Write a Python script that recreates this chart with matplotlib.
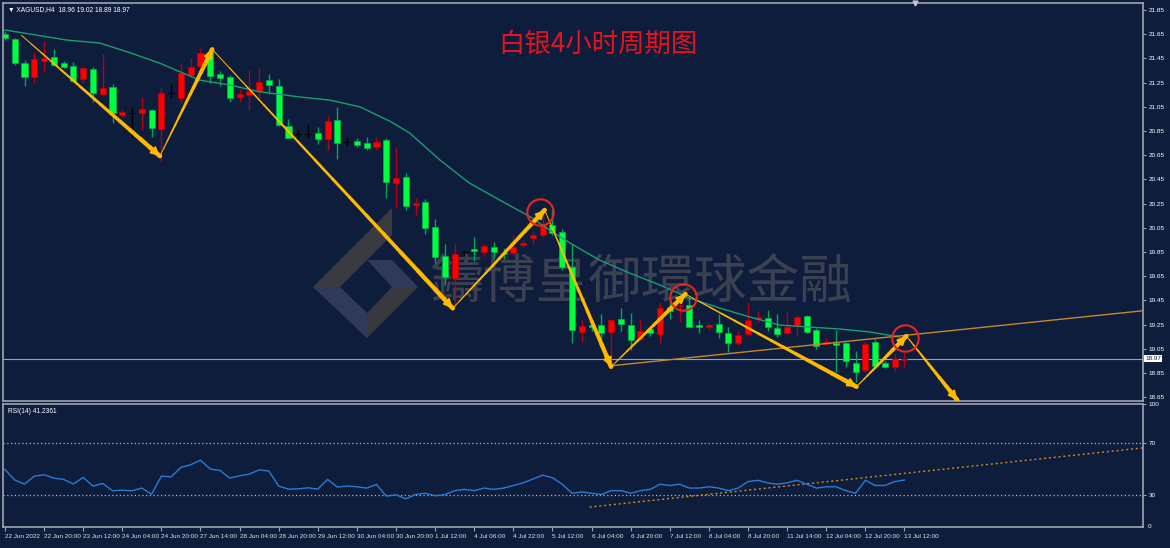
import matplotlib.pyplot as plt
import numpy as np
from matplotlib.collections import LineCollection
from matplotlib.patches import Polygon

plt.rcParams['font.family'] = ['Noto Sans CJK SC', 'DejaVu Sans']

# XAGUSD H4 candles
opens = [21.65, 21.61, 21.414, 21.30, 21.43, 21.464, 21.414, 21.39, 21.277, 21.36,
         21.156, 21.216, 20.982, 20.996, 21.00, 21.024, 20.864, 21.167, 21.125, 21.313,
         21.387, 21.505, 21.32, 21.30, 21.133, 21.145, 21.183, 21.27, 21.22, 20.89,
         20.823, 20.823, 20.83, 20.78, 20.94, 20.762, 20.77, 20.753, 20.72, 20.776,
         20.423, 20.473, 20.236, 20.266, 20.06, 19.817, 19.633, 19.853, 19.877, 19.853,
         19.894, 19.845, 19.845, 19.908, 19.963, 19.99, 20.073, 20.017, 19.73, 19.191,
         19.247, 19.247, 19.19, 19.294, 19.247, 19.128, 19.21, 19.172, 19.398, 19.40,
         19.415, 19.247, 19.228, 19.255, 19.183, 19.10, 19.172, 19.294, 19.302, 19.22,
         19.183, 19.247, 19.32, 19.205, 19.09, 19.095, 19.095, 18.935, 18.875, 19.11,
         18.93, 18.897, 18.96]
highs = [21.68, 21.62, 21.44, 21.505, 21.59, 21.525, 21.43, 21.42, 21.38, 21.38,
         21.49, 21.236, 21.02, 21.05, 21.134, 21.03, 21.203, 21.24, 21.414, 21.45,
         21.533, 21.535, 21.35, 21.31, 21.20, 21.354, 21.37, 21.32, 21.277, 20.95,
         20.86, 20.91, 20.885, 20.974, 21.046, 20.80, 20.79, 20.80, 20.80, 20.79,
         20.72, 20.50, 20.296, 20.29, 20.12, 19.92, 19.92, 19.87, 19.976, 19.92,
         19.93, 19.885, 19.99, 19.95, 20.018, 20.197, 20.197, 20.04, 19.92, 19.288,
         19.29, 19.337, 19.30, 19.385, 19.343, 19.30, 19.23, 19.426, 19.45, 19.43,
         19.49, 19.29, 19.26, 19.337, 19.228, 19.20, 19.44, 19.36, 19.37, 19.337,
         19.36, 19.33, 19.33, 19.22, 19.14, 19.205, 19.11, 19.035, 19.11, 19.13,
         18.95, 19.01, 19.02]
lows = [21.60, 21.395, 21.225, 21.245, 21.34, 21.39, 21.37, 21.255, 21.245, 21.087,
        21.15, 20.914, 20.97, 20.79, 20.86, 20.80, 20.596, 21.12, 21.084, 21.30,
        21.38, 21.245, 21.225, 21.09, 21.09, 21.02, 21.12, 21.16, 20.89, 20.79,
        20.79, 20.79, 20.74, 20.69, 20.616, 20.73, 20.72, 20.69, 20.69, 20.296,
        20.21, 20.20, 20.156, 20.00, 19.76, 19.577, 19.393, 19.82, 19.78, 19.82,
        19.80, 19.79, 19.825, 19.89, 19.92, 19.977, 19.99, 19.70, 19.095, 19.108,
        19.20, 19.12, 18.93, 19.20, 19.04, 19.12, 19.16, 19.095, 19.30, 19.27,
        19.227, 19.18, 19.21, 19.136, 19.02, 19.08, 19.16, 19.27, 19.20, 19.15,
        19.17, 19.165, 19.18, 19.05, 19.085, 18.86, 18.90, 18.78, 18.86, 18.89,
        18.89, 18.87, 18.89]
closes = [21.62, 21.414, 21.30, 21.445, 21.456, 21.395, 21.376, 21.26, 21.368, 21.167,
          21.208, 20.996, 21.007, 20.996, 21.03, 20.872, 21.167, 21.167, 21.327, 21.381,
          21.492, 21.305, 21.285, 21.125, 21.156, 21.183, 21.257, 21.228, 20.897, 20.79,
          20.823, 20.823, 20.784, 20.933, 20.748, 20.762, 20.734, 20.707, 20.762, 20.43,
          20.459, 20.23, 20.258, 20.046, 19.806, 19.64, 19.833, 19.853, 19.858, 19.90,
          19.853, 19.835, 19.894, 19.927, 19.988, 20.08, 20.004, 19.73, 19.205, 19.238,
          19.228, 19.183, 19.288, 19.255, 19.123, 19.20, 19.18, 19.385, 19.365, 19.41,
          19.23, 19.228, 19.247, 19.19, 19.095, 19.164, 19.288, 19.315, 19.228, 19.172,
          19.233, 19.31, 19.19, 19.073, 19.11, 19.082, 18.95, 18.86, 19.09, 18.91,
          18.90, 18.97, 18.97]

date_labels = ['22 Jun 2022', '22 Jun 20:00', '23 Jun 12:00', '24 Jun 04:00', '24 Jun 20:00',
               '27 Jun 14:00', '28 Jun 04:00', '28 Jun 20:00', '29 Jun 12:00', '30 Jun 04:00',
               '30 Jun 20:00', '1 Jul 12:00', '4 Jul 06:00', '4 Jul 22:00', '5 Jul 12:00',
               '6 Jul 04:00', '6 Jul 20:00', '7 Jul 12:00', '8 Jul 04:00', '8 Jul 20:00',
               '11 Jul 14:00', '12 Jul 04:00', '12 Jul 20:00', '13 Jul 12:00']

# moving average (sampled along the line)
ma_x = [0, 6.3, 9.7, 12.8, 15.8, 19.9, 23, 26, 30.2, 33.2, 36.3, 39.4, 41.4, 44.5, 47.5,
        50.6, 53.7, 55.7, 57.8, 60.8, 63.9, 67, 70, 73.1, 76.2, 79.2, 82.3, 85.4, 88.4, 91.5]
ma_y = [21.685, 21.602, 21.577, 21.497, 21.412, 21.271, 21.23, 21.175, 21.131, 21.106,
        21.05, 20.93, 20.833, 20.61, 20.42, 20.28, 20.142, 20.032, 19.924, 19.784,
        19.676, 19.577, 19.47, 19.387, 19.313, 19.247, 19.23, 19.214, 19.19, 19.148]

# zigzag arrows
zz_x = [1.7, 15.85, 21.2, 45.8, 55.2, 62.0, 69.6, 87.1, 92.2, 97.4]
zz_y = [21.64, 20.643, 21.525, 19.385, 20.197, 18.902, 19.503, 18.737, 19.156, 18.627]

# trend line (two anchor points, extended right)
tl_x = [62.0, 97.4]
tl_y = [18.91, 19.206]

circle_x = [54.7, 69.3, 92.1]
circle_y = [20.18, 19.478, 19.14]

rsi = [49.4, 41.2, 38.1, 44.2, 45.3, 42.7, 41.7, 38.1, 43.2, 36.5,
       38.6, 32.9, 33.4, 32.9, 35.0, 30.3, 44.2, 43.7, 51.0, 53.0,
       56.6, 49.7, 48.6, 42.7, 44.5, 45.8, 49.1, 48.1, 36.5, 34.2,
       34.4, 35.2, 34.2, 41.7, 35.8, 36.5, 36.0, 35.0, 37.8, 28.8,
       29.8, 26.7, 30, 31, 29, 30, 33, 34, 33, 35,
       34, 35, 37, 39, 42, 45, 43, 38, 31, 32,
       31, 30, 33, 33, 31, 33, 34, 38, 37, 38,
       35, 35, 36, 35, 33, 35, 40, 41, 39, 38,
       39, 41, 38, 35, 36, 36, 33, 31, 41, 37,
       37, 40, 41.2361]
rsi_tl_x = [59.8, 116.4]
rsi_tl_y = [20.3, 66.1]

bg = '#0f1d3d'
frame = '#9ea4ae'
gold = '#ffb900'
W, H = 1170, 548


def box(l, t, r, b):
    return [l / W, 1 - b / H, (r - l) / W, (b - t) / H]


fig = plt.figure(figsize=(11.7, 5.48), dpi=100, facecolor=bg)
ax = fig.add_axes(box(3, 3, 1143, 401), facecolor=bg)
ax2 = fig.add_axes(box(3, 404, 1143, 527), facecolor=bg, sharex=ax)

x = np.arange(len(opens))
o = np.array(opens); h = np.array(highs); l = np.array(lows); c = np.array(closes)
dn = c < o
up = c > o
fl = c == o

ax.vlines(x[dn], l[dn], h[dn], color='#00a65a', lw=1, zorder=2)
ax.bar(x[dn], np.maximum(o[dn] - c[dn], 0.008), bottom=c[dn], width=0.62,
       color='#00ff3c', edgecolor='#00b050', lw=0.5, zorder=3)
ax.vlines(x[up], l[up], h[up], color='#b0001a', lw=1, zorder=2)
ax.bar(x[up], np.maximum(c[up] - o[up], 0.008), bottom=o[up], width=0.62,
       color='#ff0000', edgecolor='#c00000', lw=0.5, zorder=3)
ax.vlines(x[fl], l[fl], h[fl], color='black', lw=1, zorder=2)
ax.hlines(c[fl], x[fl] - 0.32, x[fl] + 0.32, color='black', lw=1, zorder=2)

ax.plot(ma_x, ma_y, color='#1a9e70', lw=1, zorder=4)

# current price line
ax.axhline(closes[-1], color='#a0a0a0', lw=0.8, zorder=1.5)

# trend line
slope = (tl_y[1] - tl_y[0]) / (tl_x[1] - tl_x[0])
xr = 116.4
ax.plot([tl_x[0], xr], [tl_y[0], tl_y[0] + slope * (xr - tl_x[0])], color='#c8862a', lw=1, zorder=4)

# tapered zigzag arrows
for i in range(len(zz_x) - 1):
    x0, y0, x1, y1 = zz_x[i], zz_y[i], zz_x[i + 1], zz_y[i + 1]
    t = np.linspace(0, 1, 15)
    xs = x0 + (x1 - x0) * t
    ys = y0 + (y1 - y0) * t
    segs = [[(xs[k], ys[k]), (xs[k + 1], ys[k + 1])] for k in range(14)]
    lc = LineCollection(segs, linewidths=np.linspace(0.7, 3.3, 14), colors=gold,
                        capstyle='round', zorder=6)
    ax.add_collection(lc)
    ax.annotate('', xy=(x1, y1), xytext=(x0 + (x1 - x0) * 0.95, y0 + (y1 - y0) * 0.95),
                arrowprops=dict(arrowstyle='-|>,head_length=0.5,head_width=0.25', color=gold,
                                lw=1.5, shrinkA=0, shrinkB=0), zorder=6)

ax.plot(circle_x, circle_y, 'o', mfc='none', mec='#e8261e', mew=1.5, ms=19, zorder=7)

ax.set_xlim(-0.2, 116.4)
ax.set_ylim(18.619, 21.908)
ax.yaxis.tick_right()
ticks = np.round(np.arange(18.65, 21.86, 0.2), 2)
ax.set_yticks(ticks)
ax.set_yticklabels(['%.2f' % v for v in ticks])
ax.tick_params(axis='y', colors=frame, labelcolor='white', labelsize=4.6, length=2, pad=2)
ax.tick_params(axis='x', bottom=False, labelbottom=False)
for sp in ax.spines.values():
    sp.set_color(frame)
    sp.set_linewidth(1.2)

# chart shift marker at the top
ax.plot([93.1], [1.0], marker='v', color='#c0c4cc', ms=3.5, transform=ax.get_xaxis_transform(),
        clip_on=False, zorder=10)

ax.text(1.002, closes[-1], '%.2f' % closes[-1], transform=ax.get_yaxis_transform(),
        ha='left', va='center', fontsize=4.6, color=bg, family='Liberation Sans',
        bbox=dict(facecolor='white', edgecolor='none', pad=0.8), zorder=10, clip_on=False)
ax.text(0.004, 0.992, '▼ XAGUSD,H4  %.2f %.2f %.2f %.2f' % (opens[-1], highs[-1], lows[-1], closes[-1]),
        transform=ax.transAxes, fontsize=4.8, color='white', va='top', ha='left',
        family=['Liberation Sans', 'DejaVu Sans'])

# watermark
wm = [((313, 287), (392, 208), (392, 235), (340, 287), '#3a3b42'),
      ((313, 287), (340, 287), (367, 313), (367, 338), '#2f3a5a'),
      ((367, 338), (367, 313), (392, 287), (418, 287), '#38393f'),
      ((367, 260), (392, 260), (418, 287), (392, 287), '#2f3a5a')]
for p in wm:
    poly = Polygon([(px / W, 1 - py / H) for px, py in p[:4]], closed=True,
                   facecolor=p[4], edgecolor='none', transform=fig.transFigure, zorder=0.5)
    ax.add_patch(poly)
ax.text(642 / W, 1 - 282 / H, '鑄博皇御環球金融', transform=fig.transFigure, fontsize=38,
        color='#3b4150', ha='center', va='center', zorder=0.6,
        family=['Noto Sans CJK TC', 'DejaVu Sans'])

fig.text(598 / W, 1 - 44 / H, '白银4小时周期图', color='#e3141d', fontsize=19,
         ha='center', va='center')

# RSI panel
ax2.plot(x, rsi, color='#2a7ad6', lw=1, zorder=3)
ax2.axhline(70, color='#b4b4b4', lw=0.9, ls=(0, (1, 2)))
ax2.axhline(30, color='#b4b4b4', lw=0.9, ls=(0, (1, 2)))
ax2.plot(rsi_tl_x, rsi_tl_y, color='#d08a20', lw=1, ls=(0, (1.5, 2)), zorder=2)
ax2.set_ylim(4.9, 100)
ax2.yaxis.tick_right()
ax2.set_yticks([30, 70, 100])
ax2.set_yticklabels(['30', '70', '100'])
ax2.tick_params(axis='y', colors=frame, labelcolor='white', labelsize=4.6, length=2, pad=2)
ax2.text(1.004, 0.0, '0', transform=ax2.transAxes, fontsize=4.6, color='white',
         ha='left', va='center', family='Liberation Sans')
ax2.text(0.004, 0.97, 'RSI(14) %.4f' % rsi[-1], transform=ax2.transAxes, fontsize=4.8,
         color='white', va='top', ha='left', family='Liberation Sans')
ax2.set_xticks(np.arange(0, len(date_labels) * 4, 4))
ax2.set_xticklabels(date_labels, ha='left')
ax2.tick_params(axis='x', colors=frame, labelcolor='#e0e0e0', labelsize=4.6, length=3, pad=2)
for lab in ax2.get_xticklabels() + ax2.get_yticklabels() + ax.get_yticklabels():
    lab.set_family('Liberation Sans')
for sp in ax2.spines.values():
    sp.set_color(frame)
    sp.set_linewidth(1.2)

fig.savefig('out.png', dpi=100, facecolor=bg)
